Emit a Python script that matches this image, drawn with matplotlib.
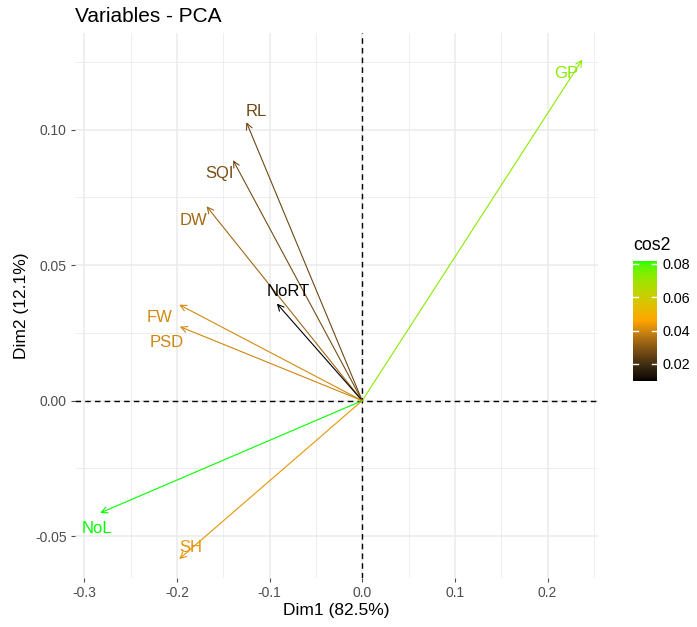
import numpy as np
import matplotlib.pyplot as plt
from matplotlib.colors import ListedColormap, Normalize, to_rgb

plt.rcParams['font.family'] = ['Liberation Sans', 'DejaVu Sans']

variables = ["GP", "RL", "SQI", "DW", "NoRT", "FW", "PSD", "NoL", "SH"]
dim1 = [0.2376, -0.1250, -0.1394, -0.1680, -0.0921, -0.1975, -0.1968, -0.2828, -0.1975]
dim2 = [0.1258, 0.1027, 0.0887, 0.0717, 0.0358, 0.0354, 0.0273, -0.0414, -0.0584]
# label offsets in points (text centre relative to arrow tip)
label_dx = [-11.5, 7, -10, -9.5, 8, -14, -9.5, -2, 8]
label_dy = [-10, 8, -9.5, -10, 9, -9, -11.5, -11, 8]

cos2 = np.array(dim1) ** 2 + np.array(dim2) ** 2


# ggplot's gradientn blends in Lab space
def srgb_to_lab(c):
    c = np.asarray(c, float)
    lin = np.where(c <= 0.04045, c / 12.92, ((c + 0.055) / 1.055) ** 2.4)
    m = np.array([[0.4124, 0.3576, 0.1805], [0.2126, 0.7152, 0.0722], [0.0193, 0.1192, 0.9505]])
    xyz = m @ lin / np.array([0.95047, 1.0, 1.08883])
    f = np.where(xyz > 0.008856, np.cbrt(xyz), 7.787 * xyz + 16 / 116)
    return np.array([116 * f[1] - 16, 500 * (f[0] - f[1]), 200 * (f[1] - f[2])])


def lab_to_srgb(lab):
    L, a, b = lab
    fy = (L + 16) / 116
    fx = fy + a / 500
    fz = fy - b / 200
    f = np.array([fx, fy, fz])
    xyz = np.where(f ** 3 > 0.008856, f ** 3, (f - 16 / 116) / 7.787) * np.array([0.95047, 1.0, 1.08883])
    mi = np.array([[3.2406, -1.5372, -0.4986], [-0.9689, 1.8758, 0.0415], [0.0557, -0.2040, 1.0570]])
    lin = mi @ xyz
    c = np.where(lin <= 0.0031308, 12.92 * lin, 1.055 * np.abs(lin) ** (1 / 2.4) - 0.055)
    return np.clip(c, 0, 1)


stops = [srgb_to_lab(to_rgb(c)) for c in ["black", "orange", "#00FF00"]]
samples = []
for t in np.linspace(0, 1, 256):
    seg = min(int(t * 2), 1)
    u = t * 2 - seg
    samples.append(lab_to_srgb(stops[seg] * (1 - u) + stops[seg + 1] * u))
cmap = ListedColormap(samples)
norm = Normalize(vmin=cos2.min(), vmax=cos2.max())

fig = plt.figure(figsize=(6.97, 6.27), dpi=100)
W, H = 697, 627
left, right, top, bottom = 75, 598, 33, 578
ax = fig.add_axes([left / W, 1 - bottom / H, (right - left) / W, (bottom - top) / H])

ax.set_xlim(-0.31, 0.2545)
ax.set_ylim(-0.0654, 0.1356)

grid_col = "#EBEBEB"
for v in np.arange(-0.3, 0.26, 0.1):
    ax.axvline(v, color=grid_col, lw=1.1, zorder=0)
for v in np.arange(-0.25, 0.26, 0.1):
    ax.axvline(v, color=grid_col, lw=0.6, zorder=0)
for v in [-0.05, 0.0, 0.05, 0.10]:
    ax.axhline(v, color=grid_col, lw=1.1, zorder=0)
for v in [-0.025, 0.025, 0.075, 0.125]:
    ax.axhline(v, color=grid_col, lw=0.6, zorder=0)

ax.axhline(0, color="black", lw=1, ls=(0, (4, 3)), zorder=1)
ax.axvline(0, color="black", lw=1, ls=(0, (4, 3)), zorder=1)

for name, x, y, c, dx, dy in zip(variables, dim1, dim2, cos2, label_dx, label_dy):
    col = cmap(norm(c))
    ax.annotate("", xy=(x, y), xytext=(0, 0),
                arrowprops=dict(arrowstyle="->", color=col, lw=0.8,
                                mutation_scale=11, shrinkA=0, shrinkB=0), zorder=2)
    ax.annotate(name, xy=(x, y), xytext=(dx, dy), textcoords="offset points",
                ha="center", va="center", color=col, fontsize=12, zorder=3)

for s in ax.spines.values():
    s.set_visible(False)
ax.set_xticks([-0.3, -0.2, -0.1, 0.0, 0.1, 0.2])
ax.set_xticklabels(["-0.3", "-0.2", "-0.1", "0.0", "0.1", "0.2"])
ax.set_yticks([-0.05, 0.0, 0.05, 0.10])
ax.set_yticklabels(["-0.05", "0.00", "0.05", "0.10"])
ax.tick_params(colors="#4D4D4D", labelsize=10, length=3, width=0.8, pad=3)
ax.set_xlabel("Dim1 (82.5%)", fontsize=12.5, labelpad=2)
ax.set_ylabel("Dim2 (12.1%)", fontsize=12.5, labelpad=4)
ax.set_title("Variables - PCA", loc="left", fontsize=15, pad=8)

cax = fig.add_axes([633 / W, 1 - 381 / H, 24 / W, 120 / H])
grad = np.linspace(cos2.min(), cos2.max(), 256).reshape(-1, 1)
cax.imshow(grad, aspect="auto", origin="lower", cmap=cmap, norm=norm,
           extent=[0, 1, cos2.min(), cos2.max()])
for t in [0.02, 0.04, 0.06, 0.08]:
    cax.plot([0, 0.2], [t, t], color="white", lw=1)
    cax.plot([0.8, 1], [t, t], color="white", lw=1)
cax.set_xlim(0, 1)
cax.set_ylim(cos2.min(), cos2.max())
cax.set_xticks([])
cax.yaxis.tick_right()
cax.set_yticks([0.02, 0.04, 0.06, 0.08])
cax.set_yticklabels(["0.02", "0.04", "0.06", "0.08"])
cax.tick_params(length=0, labelsize=10.4, colors="black", pad=4)
for s in cax.spines.values():
    s.set_visible(False)
fig.text(633 / W, 1 - 245 / H, "cos2", fontsize=12.8, va="center", ha="left")

fig.savefig("out.png", dpi=100)
